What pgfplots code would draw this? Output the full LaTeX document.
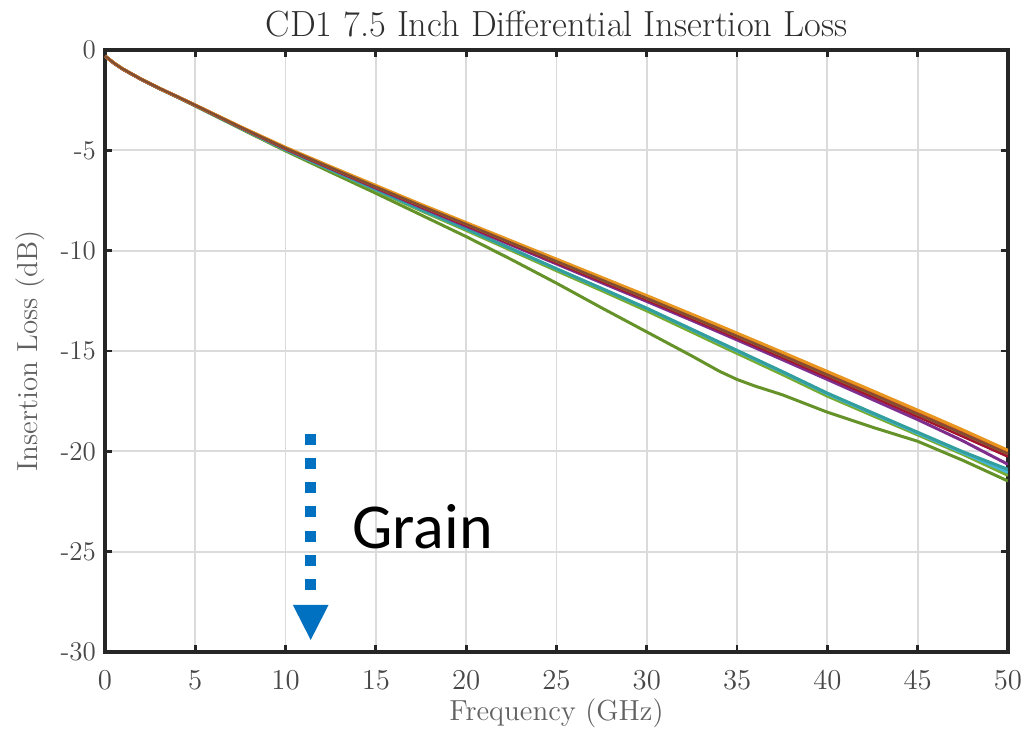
\documentclass[border=0pt]{standalone}
\usepackage{pgfplots}
\pgfplotsset{compat=1.18}
\usepackage{pgfplotstable}
\usepackage{fontspec}
\newfontfamily\grainfont{Carlito}
\usetikzlibrary{calc}
\definecolor{mblue}{rgb}{0,0.447,0.741}
\definecolor{morange}{rgb}{0.85,0.325,0.098}
\definecolor{myellow}{rgb}{0.929,0.694,0.125}
\definecolor{mpurple}{rgb}{0.494,0.184,0.556}
\definecolor{mgreen}{rgb}{0.466,0.674,0.188}
\definecolor{mcyan}{rgb}{0.301,0.745,0.933}
\definecolor{mred}{rgb}{0.635,0.078,0.184}
\definecolor{mbrown}{rgb}{0.70,0.42,0.18}
\definecolor{mdark}{rgb}{0.50,0.30,0.20}
\definecolor{mteal}{rgb}{0.20,0.62,0.62}
\definecolor{arrowblue}{HTML}{0070C0}

\pgfplotstableread{
f    o1     o2     o3     o4     p      d      b      c      g      g2
0    -0.30  -0.30  -0.30  -0.30  -0.30  -0.30  -0.30  -0.30  -0.30  -0.30
0.5  -0.65  -0.65  -0.66  -0.65  -0.66  -0.65  -0.66  -0.66  -0.66  -0.66
1    -0.95  -0.95  -0.96  -0.95  -0.96  -0.95  -0.96  -0.96  -0.96  -0.96
2    -1.45  -1.45  -1.46  -1.45  -1.46  -1.45  -1.46  -1.46  -1.46  -1.46
3    -1.90  -1.90  -1.91  -1.90  -1.91  -1.90  -1.91  -1.91  -1.92  -1.92
4    -2.32  -2.32  -2.33  -2.32  -2.33  -2.32  -2.33  -2.34  -2.34  -2.35
5    -2.75  -2.74  -2.76  -2.75  -2.76  -2.75  -2.77  -2.77  -2.78  -2.79
7.5  -3.83  -3.82  -3.85  -3.84  -3.86  -3.84  -3.88  -3.88  -3.90  -3.92
10   -4.88  -4.85  -4.91  -4.89  -4.93  -4.89  -4.96  -4.97  -4.99  -5.03
12.5 -5.85  -5.81  -5.89  -5.86  -5.91  -5.86  -5.96  -5.97  -6.00  -6.09
15   -6.80  -6.75  -6.85  -6.82  -6.88  -6.82  -6.95  -6.96  -7.00  -7.14
17.5 -7.74  -7.69  -7.80  -7.76  -7.84  -7.76  -7.95  -7.96  -8.01  -8.22
20   -8.66  -8.60  -8.73  -8.68  -8.78  -8.68  -8.91  -8.92  -8.99  -9.30
22.5 -9.58  -9.51  -9.66  -9.61  -9.72  -9.61  -9.90  -9.91  -9.99  -10.44
25   -10.50 -10.42 -10.59 -10.53 -10.66 -10.53 -10.90 -10.91 -11.00 -11.62
27.5 -11.42 -11.33 -11.52 -11.45 -11.60 -11.45 -11.88 -11.89 -11.99 -12.85
30   -12.33 -12.24 -12.44 -12.37 -12.53 -12.37 -12.87 -12.88 -13.00 -14.05
32.5 -13.27 -13.17 -13.39 -13.31 -13.48 -13.31 -13.92 -13.94 -14.06 -15.25
34   -13.84 -13.73 -13.96 -13.88 -14.06 -13.88 -14.55 -14.58 -14.70 -16.00
35   -14.22 -14.11 -14.35 -14.26 -14.45 -14.26 -14.97 -15.00 -15.12 -16.42
36   -14.60 -14.49 -14.73 -14.64 -14.84 -14.64 -15.39 -15.42 -15.54 -16.75
37.5 -15.18 -15.06 -15.31 -15.22 -15.43 -15.22 -16.02 -16.05 -16.17 -17.18
40   -16.15 -16.02 -16.29 -16.19 -16.42 -16.19 -17.10 -17.14 -17.25 -18.05
42.5 -17.12 -16.98 -17.27 -17.16 -17.42 -17.16 -18.08 -18.12 -18.22 -18.80
45   -18.10 -17.95 -18.26 -18.14 -18.42 -18.14 -19.05 -19.10 -19.18 -19.50
47.5 -19.08 -18.93 -19.25 -19.12 -19.48 -19.12 -20.02 -20.07 -20.15 -20.45
50   -20.08 -19.95 -20.25 -20.12 -20.65 -20.12 -20.90 -21.05 -21.20 -21.48
}\datatable

\begin{document}
\begin{tikzpicture}
\begin{axis}[
  scale only axis,
  width=451.5pt, height=301pt,
  xmin=0, xmax=50, ymin=-30, ymax=0,
  xtick={0,5,...,50}, ytick={-30,-25,-20,-15,-10,-5,0},
  yticklabels={-30,-25,-20,-15,-10,-5,0},
  grid=major,
  major grid style={line width=0.9pt, color=black!14},
  axis line style={line width=1.6pt, black!85},
  tick style={line width=1.4pt, black!85},
  major tick length=3.5pt,
  tick align=inside,
  xticklabel style={font=\fontsize{13.5}{15}\selectfont, text=black!72, yshift=-6pt},
  yticklabel style={font=\fontsize{13.5}{15}\selectfont, text=black!72, xshift=-1pt},
  title={CD1 7.5 Inch Differential Insertion Loss},
  title style={font=\fontsize{18.2}{20}\selectfont, text=black!82, yshift=-3pt},
  xlabel={Frequency (GHz)},
  ylabel={Insertion Loss (dB)},
  label style={font=\fontsize{14.5}{16}\selectfont, text=black!62},
  xlabel style={yshift=2.5pt},
  ylabel style={yshift=1pt},
  every axis plot/.append style={line width=1.5pt, no marks, line join=round},
]
\addplot[mgreen!85!black] table[x=f,y=g2] {\datatable};
\addplot[mgreen] table[x=f,y=g] {\datatable};
\addplot[mcyan!70!mteal] table[x=f,y=c] {\datatable};
\addplot[mteal] table[x=f,y=b] {\datatable};
\addplot[mpurple] table[x=f,y=p] {\datatable};
\addplot[mred] table[x=f,y=o3] {\datatable};
\addplot[mbrown] table[x=f,y=o4] {\datatable};
\addplot[morange] table[x=f,y=o1] {\datatable};
\addplot[myellow!70!morange] table[x=f,y=o2] {\datatable};
\addplot[mdark, line width=1.2pt] table[x=f,y=d] {\datatable};
\draw[arrowblue, line width=5.5pt, dash pattern=on 5.5pt off 6.6pt] (axis cs:11.39,-19.13) -- (axis cs:11.39,-27.5);
\fill[arrowblue] (axis cs:10.4,-27.65) -- (axis cs:12.38,-27.65) -- (axis cs:11.39,-29.4) -- cycle;
\node[anchor=base west, inner sep=0pt, font=\grainfont\fontsize{32}{36}\selectfont] at (axis cs:13.68,-24.85) {Grain};
\coordinate (ll) at (rel axis cs:0,0);
\coordinate (ur) at (rel axis cs:1,1);
\end{axis}
\pgfresetboundingbox
\path ($(ll)+(-52.5pt,-38.5pt)$) rectangle ($(ur)+(8.5pt,25pt)$);
\end{tikzpicture}
\end{document}
